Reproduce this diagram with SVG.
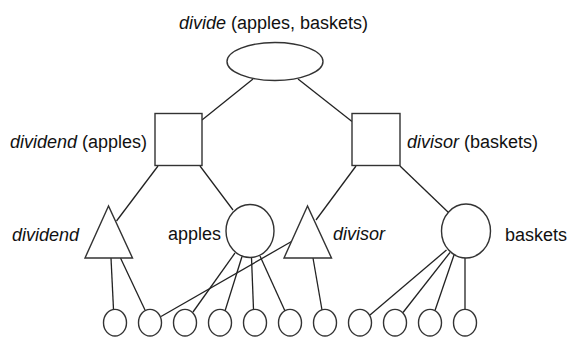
<svg xmlns="http://www.w3.org/2000/svg" width="572" height="337" viewBox="0 0 572 337">
<style>
.s{fill:#fff;stroke:#333;stroke-width:1.4}
.c{stroke:#222;stroke-width:1.3;fill:none}
text{font-family:"Liberation Sans",Arial,Helvetica,sans-serif;font-size:18px;fill:#111}
.i{font-style:italic}
</style>
<rect width="572" height="337" fill="#fff"/>
<g id="connectors">
<line class="c" x1="253" y1="79" x2="202" y2="120"/>
<line class="c" x1="298" y1="79" x2="352" y2="121.5"/>
<line class="c" x1="158" y1="166" x2="116.5" y2="221"/>
<line class="c" x1="200" y1="166" x2="233" y2="210"/>
<line class="c" x1="356" y1="166" x2="316" y2="220"/>
<line class="c" x1="400" y1="166" x2="449" y2="213"/>
<line class="c" x1="111" y1="258" x2="113.5" y2="309.5"/>
<line class="c" x1="120.5" y1="258" x2="145" y2="310"/>
<line class="c" x1="291.5" y1="241.5" x2="161" y2="316.5"/>
<line class="c" x1="235" y1="253" x2="193" y2="312"/>
<line class="c" x1="242" y1="256.5" x2="225" y2="311"/>
<line class="c" x1="251.5" y1="257.5" x2="253.5" y2="309.5"/>
<line class="c" x1="260" y1="256" x2="285" y2="311"/>
<line class="c" x1="313" y1="258" x2="322" y2="310"/>
<line class="c" x1="446.5" y1="250" x2="370" y2="315"/>
<line class="c" x1="450" y1="252.5" x2="403" y2="312.5"/>
<line class="c" x1="454" y1="255" x2="435" y2="310.5"/>
<line class="c" x1="465" y1="258" x2="465" y2="309.5"/>
</g>
<g id="divide">
<ellipse class="s" cx="275" cy="61.5" rx="48" ry="19"/>
<text x="179" y="29"><tspan class="i">divide</tspan> (apples, baskets)</text>
</g>
<g id="dividend-apples">
<rect class="s" x="155" y="113.5" width="47" height="52"/>
<text x="10" y="148"><tspan class="i">dividend</tspan> (apples)</text>
</g>
<g id="divisor-baskets">
<rect class="s" x="352" y="113.5" width="48" height="52"/>
<text x="407" y="148"><tspan class="i">divisor</tspan> (baskets)</text>
</g>
<g id="dividend">
<polygon class="s" points="108.5,206 85,258 132.5,258"/>
<text class="i" x="12" y="241">dividend</text>
</g>
<g id="apples">
<ellipse class="s" cx="250" cy="231" rx="24" ry="26.5"/>
<text x="168" y="240">apples</text>
</g>
<g id="divisor">
<polygon class="s" points="307.5,206 284,258 331.5,258"/>
<text class="i" x="333" y="240">divisor</text>
</g>
<g id="baskets">
<ellipse class="s" cx="466" cy="231" rx="24.5" ry="27"/>
<text x="505" y="241">baskets</text>
</g>
<g id="leaves">
<ellipse id="l1" class="s" cx="115" cy="322.7" rx="11.5" ry="13.3"/>
<ellipse id="l2" class="s" cx="150" cy="322.7" rx="11.5" ry="13.3"/>
<ellipse id="l3" class="s" cx="185" cy="322.7" rx="11.5" ry="13.3"/>
<ellipse id="l4" class="s" cx="220" cy="322.7" rx="11.5" ry="13.3"/>
<ellipse id="l5" class="s" cx="255" cy="322.7" rx="11.5" ry="13.3"/>
<ellipse id="l6" class="s" cx="290" cy="322.7" rx="11.5" ry="13.3"/>
<ellipse id="l7" class="s" cx="325" cy="322.7" rx="11.5" ry="13.3"/>
<ellipse id="l8" class="s" cx="360" cy="322.7" rx="11.5" ry="13.3"/>
<ellipse id="l9" class="s" cx="395" cy="322.7" rx="11.5" ry="13.3"/>
<ellipse id="l10" class="s" cx="430" cy="322.7" rx="11.5" ry="13.3"/>
<ellipse id="l11" class="s" cx="465" cy="322.7" rx="11.5" ry="13.3"/>
</g>
</svg>
